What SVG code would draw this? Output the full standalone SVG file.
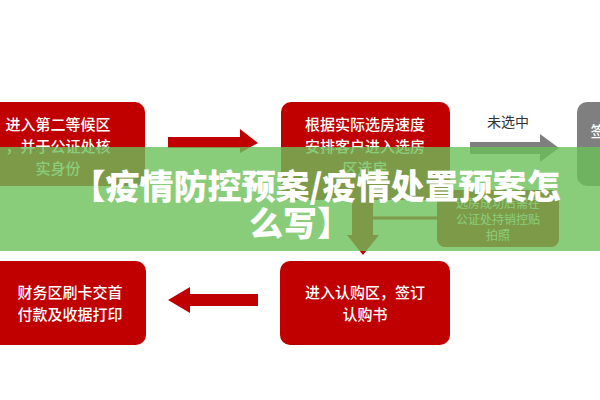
<svg xmlns="http://www.w3.org/2000/svg" width="600" height="400" viewBox="0 0 600 400">
<style>
.box{fill:#c00000}
.t{font-family:"Noto Sans CJK SC",sans-serif;font-size:15px;font-weight:500;fill:#fff;text-anchor:middle}
.s{font-family:"Noto Sans CJK SC",sans-serif;font-size:12px;fill:#fff;text-anchor:middle}
.title{font-family:"Noto Sans CJK SC",sans-serif;font-size:34px;font-weight:900;fill:#fff;text-anchor:middle}
</style>
<rect width="600" height="400" fill="#fff"/>
<g id="connectors">
<polygon points="168,137 240,137 240,129 258,143 240,153 240,148 168,148" fill="#c00000"/>
<polygon points="470,142 540,142 540,134 559,148 540,162 540,154 470,154" fill="#7f7f7f"/>
<text x="508" y="127" style="font-family:'Noto Sans CJK SC',sans-serif;font-size:14px;fill:#333;text-anchor:middle">未选中</text>
<polygon points="352,195 373,195 373,235 379,235 363,255 347,235 352,235" fill="#c00000"/>
<line x1="373" y1="218" x2="437" y2="218" stroke="#c00000" stroke-width="3"/>
<polygon points="258,294 190,294 190,287 168,300 190,313 190,306 258,306" fill="#c00000"/>
</g>
<g id="n1"><rect class="box" x="-10" y="102" width="155" height="84" rx="10"/>
<text class="t" x="58" y="130">进入第二等候区</text><text class="t" x="58" y="152">，并于公证处核</text><text class="t" x="58" y="174">实身份</text></g>
<g id="n2"><rect class="box" x="281" y="102" width="169" height="98" rx="10"/>
<text class="t" x="365" y="130">根据实际选房速度</text><text class="t" x="365" y="152">安排客户进入选房</text><text class="t" x="365" y="174">区选房</text></g>
<g id="n3"><rect x="577" y="102" width="40" height="84" rx="10" fill="#7f7f7f"/>
<text class="t" x="598" y="137">签</text></g>
<g id="n4"><rect class="box" x="437" y="190" width="122" height="57" rx="8"/>
<text class="s" x="498" y="208">选房成功后需在</text><text class="s" x="498" y="224">公证处持销控贴</text><text class="s" x="498" y="240">拍照</text></g>
<g id="n5"><rect class="box" x="-10" y="261" width="156" height="84" rx="10"/>
<text class="t" x="70" y="298">财务区刷卡交首</text><text class="t" x="70" y="320">付款及收据打印</text></g>
<g id="n6"><rect class="box" x="280" y="261" width="170" height="84" rx="10"/>
<text class="t" x="365" y="298">进入认购区，签订</text><text class="t" x="365" y="320">认购书</text></g>
<rect x="0" y="147" width="600" height="104" fill="#6cc05a" opacity="0.8"/>
<text class="title" x="316" y="199">【疫情防控预案/疫情处置预案怎</text>
<text class="title" x="300" y="236">么写】</text>
</svg>
